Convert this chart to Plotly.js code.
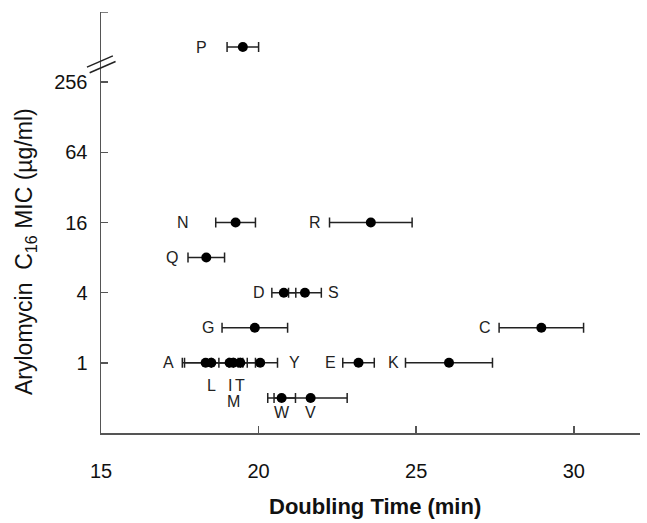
<!DOCTYPE html>
<html>
<head>
<meta charset="utf-8">
<script src="https://cdn.plot.ly/plotly-3.0.1.min.js"></script>
<style>html,body{margin:0;padding:0;background:#fff;}#chart{width:647px;height:523px;}</style>
</head>
<body>
<div id="chart"></div>
<script>
// ---- data ----
const strains      = ['P','N','R','Q','D','S','G','C','A','L','I','M','T','Y','E','K','W','V'];
const doublingTime = [19.5,19.27,23.56,18.34,20.8,21.47,19.88,28.97,18.32,18.5,19.08,19.2,19.42,20.05,23.17,26.04,20.73,21.65];
const timeError    = [0.5,0.63,1.31,0.58,0.38,0.52,1.04,1.34,0.74,0.85,0.34,0.7,0.22,0.55,0.5,1.38,0.44,1.16];
const micValue     = [512,16,16,8,4,4,2,2,1,1,1,1,1,1,1,1,0.5,0.5];
const yTickValues  = [1,4,16,64,256];
const yTickLabels  = ['1','4','16','64','256'];
const yAxisTop     = 1024;
const xTickValues  = [15,20,25,30];
const xTitle = 'Doubling Time (min)';
const yTitle = 'Arylomycin  C<sub>16</sub> MIC (µg/ml)';

// ---- label placement (style, not data) ----
const labelPlace = {
  P:{side:'L',gap:18}, N:{side:'L',gap:25}, R:{side:'L',gap:7}, Q:{side:'L',gap:8},
  D:{side:'L',gap:5}, S:{side:'R',gap:5}, G:{side:'L',gap:6}, C:{side:'L',gap:6},
  A:{side:'L',gap:6}, L:{side:'B',dy:23}, I:{side:'B',dy:23}, M:{side:'B',dy:39},
  T:{side:'B',dy:23}, Y:{side:'R',gap:9}, E:{side:'L',gap:5}, K:{side:'L',gap:4},
  W:{side:'B',dy:15}, V:{side:'B',dy:15}
};

const yLog = micValue.map(v => Math.log2(v));
const font = 'Liberation Sans, Arial, sans-serif';

const trace = {
  type:'scatter', mode:'markers',
  x: doublingTime, y: yLog,
  marker:{color:'#000', size:10},
  error_x:{type:'data', array: timeError, visible:true, color:'#222', thickness:1.5, width:5},
  hoverinfo:'skip', showlegend:false
};

const annotations = strains.map((s,i) => {
  const p = labelPlace[s];
  const a = {text:s, showarrow:false, xref:'x', yref:'y', y:yLog[i],
             font:{family:font, size:16, color:'#222'}};
  if (p.side === 'L') { a.x = doublingTime[i]-timeError[i]; a.xanchor='right'; a.xshift=-p.gap; a.yanchor='middle'; }
  else if (p.side === 'R') { a.x = doublingTime[i]+timeError[i]; a.xanchor='left'; a.xshift=p.gap; a.yanchor='middle'; }
  else { a.x = doublingTime[i]; a.xanchor='center'; a.yanchor='middle'; a.yshift=-p.dy; }
  return a;
});

// axis titles
annotations.push({text:'<b>'+xTitle+'</b>', showarrow:false, xref:'paper', yref:'paper',
  x:(375-101)/539, y:-(507-433)/421, xanchor:'center', yanchor:'middle',
  font:{family:font, size:22, color:'#111'}});
annotations.push({text:yTitle, showarrow:false, xref:'paper', yref:'paper', textangle:-90,
  x:-(101-25)/539, y:(433-252)/421, xanchor:'center', yanchor:'middle',
  font:{family:font, size:23, color:'#111'}});

const shapes = [
  // axis break marks
  {type:'line', xref:'paper', yref:'y', x0:-0.026, x1:0.022, y0:8.43, y1:8.75, line:{color:'#222', width:1.5}},
  {type:'line', xref:'paper', yref:'y', x0:-0.021, x1:0.027, y0:8.27, y1:8.59, line:{color:'#222', width:1.5}},
  // unlabeled tick at the top of the y axis
  {type:'line', xref:'paper', yref:'y', x0:0, x1:7/539, y0:Math.log2(yAxisTop), y1:Math.log2(yAxisTop), line:{color:'#555', width:1.5}}
];

const layout = {
  width:647, height:523,
  margin:{l:101, r:7, t:12, b:90},
  paper_bgcolor:'#fff', plot_bgcolor:'#fff',
  font:{family:font, color:'#111'},
  xaxis:{
    range:[15,32.1], tickvals:xTickValues, ticktext:xTickValues.map(String),
    showgrid:false, zeroline:false, showline:true, linecolor:'#555', linewidth:1.5,
    ticks:'inside', ticklen:7, tickcolor:'#555', tickwidth:1.5,
    tickfont:{size:20, color:'#111'}, ticklabelstandoff:19,
    automargin:false
  },
  yaxis:{
    range:[-2,Math.log2(yAxisTop)], tickvals:yTickValues.map(v=>Math.log2(v)), ticktext:yTickLabels,
    showgrid:false, zeroline:false, showline:true, linecolor:'#555', linewidth:1.5,
    ticks:'inside', ticklen:7, tickcolor:'#555', tickwidth:1.5,
    tickfont:{size:20, color:'#111'}, ticklabelstandoff:8,
    automargin:false
  },
  annotations: annotations,
  shapes: shapes
};

Plotly.newPlot('chart', [trace], layout, {displayModeBar:false, staticPlot:true});
</script>
</body>
</html>
